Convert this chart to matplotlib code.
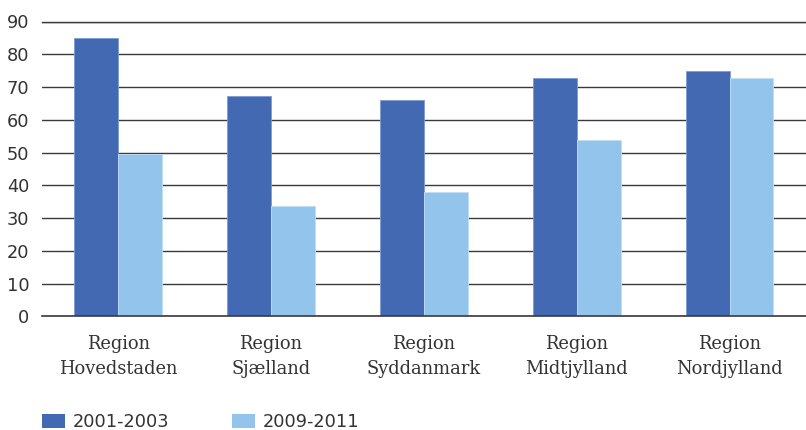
import matplotlib
matplotlib.use("Agg")
import matplotlib.pyplot as plt
import numpy as np
from matplotlib.patches import Patch

regions = ["Region\nHovedstaden", "Region\nSjælland", "Region\nSyddanmark",
           "Region\nMidtjylland", "Region\nNordjylland"]
series_names = ["2001-2003", "2009-2011"]
values_2001_2003 = [85.0, 67.4, 65.9, 72.7, 75.0]
values_2009_2011 = [49.7, 33.6, 37.9, 53.7, 72.7]
y_ticks = [0, 10, 20, 30, 40, 50, 60, 70, 80, 90]

dark_blue = "#4369B3"
light_blue = "#92C4EC"
text_color = "#333333"

fig = plt.figure(figsize=(8.06, 4.30), dpi=100)
ax = fig.add_axes([0.0517, 0.264, 0.9483, 0.686])

x = np.arange(len(regions))
w = 0.287
ax.bar(x - w / 2, values_2001_2003, width=w, color=dark_blue,
       edgecolor="#7d9bd3", linewidth=0.6, zorder=3)
ax.bar(x + w / 2, values_2009_2011, width=w, color=light_blue,
       edgecolor="#c2def5", linewidth=0.6, zorder=3)

ax.set_xlim(-0.5, len(regions) - 0.5)
ax.set_ylim(0, 90)
ax.set_yticks(y_ticks)
ax.set_yticklabels([str(t) for t in y_ticks], fontsize=12.8,
                   family="DejaVu Sans", color=text_color)
ax.yaxis.grid(True, color="#3a3a3a", linewidth=1.0, zorder=0)
ax.axhline(0, color="#3a3a3a", linewidth=1.2, zorder=4, clip_on=False)
ax.axhline(90, color="#3a3a3a", linewidth=1.0, zorder=0, clip_on=False)
ax.set_axisbelow(True)
ax.tick_params(axis="y", length=0, pad=9)
ax.tick_params(axis="x", length=0, pad=13)
ax.set_xticks(x)
ax.set_xticklabels(regions, fontsize=12.9, family="DejaVu Serif",
                   color=text_color, linespacing=1.55)
for s in ax.spines.values():
    s.set_visible(False)

handles = [Patch(facecolor=dark_blue, edgecolor="none"),
           Patch(facecolor=light_blue, edgecolor="none")]
fig.legend(handles, series_names, loc="lower left",
           bbox_to_anchor=(0.032, -0.04), ncol=2, frameon=False,
           prop={"family": "DejaVu Sans", "size": 12.8},
           handlelength=1.3, handleheight=0.85, handletextpad=0.45,
           columnspacing=3.5, labelcolor=text_color)

fig.savefig("out.png", dpi=100)
